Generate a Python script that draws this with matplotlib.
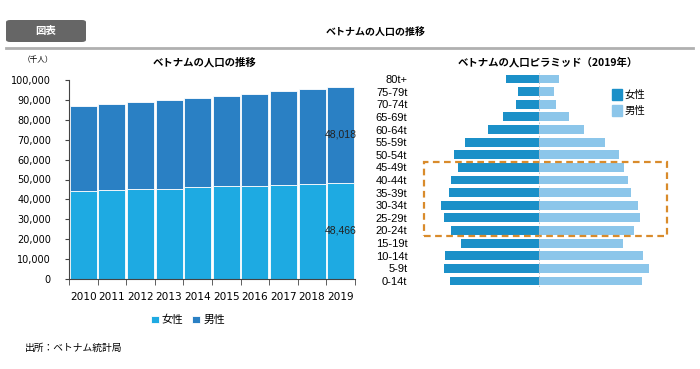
import matplotlib
matplotlib.use('Agg')
import matplotlib.pyplot as plt
from matplotlib.patches import FancyBboxPatch, Rectangle, Patch
from matplotlib.lines import Line2D
import numpy as np

plt.rcParams['font.family'] = ['Noto Sans CJK JP', 'DejaVu Sans']

# left chart: population by sex (thousand people)
years = ['2010', '2011', '2012', '2013', '2014', '2015', '2016', '2017', '2018', '2019']
female = [44200, 44600, 45100, 45400, 46100, 46600, 46900, 47400, 47900, 48466]
male = [42700, 43500, 44000, 44700, 45000, 45500, 46200, 46900, 47500, 48018]

# right chart: 2019 pyramid (bottom to top)
age_groups = ['0-14t', '5-9t', '10-14t', '15-19t', '20-24t', '25-29t', '30-34t', '35-39t',
              '40-44t', '45-49t', '50-54t', '55-59t', '60-64t', '65-69t', '70-74t',
              '75-79t', '80t+']
pyr_female = [3480, 3720, 3650, 3060, 3420, 3720, 3840, 3520, 3430, 3170, 3330, 2870,
              1990, 1400, 910, 830, 1300]
pyr_male = [4030, 4300, 4040, 3290, 3690, 3950, 3860, 3590, 3470, 3320, 3110, 2590,
            1760, 1160, 660, 570, 770]
highlight = ('20-24t', '45-49t')

W, H = 700, 369
fig = plt.figure(figsize=(W / 100, H / 100), dpi=100)


def fx(px):
    return px / W


def fy(py):
    return 1 - py / H


# header
fig.patches.append(FancyBboxPatch((fx(6), fy(42)), fx(80), 22 / H,
                                  boxstyle='round,pad=0,rounding_size=0.006',
                                  transform=fig.transFigure, facecolor='#666666',
                                  edgecolor='none'))
fig.text(fx(46), fy(31), '図表', color='white', fontsize=7.5, fontweight='bold',
         ha='center', va='center')
fig.text(fx(376), fy(32), 'ベトナムの人口の推移', fontsize=7.2, fontweight='bold',
         ha='center', va='center')
fig.lines.append(Line2D([fx(6), fx(693)], [fy(48), fy(48)], transform=fig.transFigure,
                        color='#b0b0b0', linewidth=2))

# ---- left: stacked bars ----
c_f, c_m = '#1eaae2', '#2a80c4'
num_font = ['DejaVu Sans']
ax = fig.add_axes([fx(69), fy(279), fx(355) - fx(69), (279 - 80) / H])
x = np.arange(len(years))
ax.bar(x, female, width=0.94, color=c_f, edgecolor='white', linewidth=0.6, label='女性')
ax.bar(x, male, bottom=female, width=0.94, color=c_m, edgecolor='white', linewidth=0.6,
       label='男性')
ax.text(x[-1], female[-1] / 2, f'{female[-1]:,}', ha='center', va='center', fontsize=7.5,
        family=['Liberation Sans'], color='#222222')
ax.text(x[-1], female[-1] + male[-1] / 2, f'{male[-1]:,}', ha='center', va='center',
        fontsize=7.5, family=['Liberation Sans'], color='#222222')
ax.set_xlim(-0.5, len(years) - 0.5)
ax.set_ylim(0, 100000)
ax.set_yticks(np.arange(0, 100001, 10000))
ax.set_yticklabels([f'{v:,}' for v in range(0, 100001, 10000)], fontsize=7,
                   family=num_font)
ax.set_xticks(x)
ax.set_xticklabels(years, fontsize=7.6, family=num_font)
ax.set_xticks(np.arange(-0.5, len(years)), minor=True)
ax.tick_params(axis='x', which='major', length=0, pad=9)
ax.tick_params(axis='x', which='minor', length=4, color='#444444')
ax.tick_params(axis='y', length=3, color='#444444', pad=10)
for s in ['top', 'right']:
    ax.spines[s].set_visible(False)
for s in ['left', 'bottom']:
    ax.spines[s].set_color('#444444')
    ax.spines[s].set_linewidth(0.8)
ax.legend(loc='center', bbox_to_anchor=(fx(188), fy(320)), bbox_transform=fig.transFigure,
          ncol=2, frameon=False, fontsize=7.8, handlelength=0.7, handleheight=0.7,
          handletextpad=0.3, columnspacing=0.8)
fig.text(fx(38), fy(60), '（千人）', fontsize=5.5, ha='center', va='center')
fig.text(fx(205), fy(62), 'ベトナムの人口の推移', fontsize=7.5, fontweight='bold',
         ha='center', va='center')

# ---- right: pyramid ----
p_f, p_m = '#1b90c8', '#8cc6ea'
ax2 = fig.add_axes([fx(415), fy(287.3), fx(680) - fx(415), (287.3 - 72.7) / H])
y = np.arange(len(age_groups))
ax2.barh(y, [-v for v in pyr_female], height=0.7, color=p_f, label='女性')
ax2.barh(y, pyr_male, height=0.7, color=p_m, label='男性')
ax2.axvline(0, color='#bbbbbb', linewidth=0.6, linestyle=(0, (2, 2)))
ax2.set_ylim(-0.5, len(age_groups) - 0.5)
ax2.set_xlim(-4836, 5499)
ax2.set_yticks(y)
ax2.set_yticklabels(age_groups, fontsize=8, family=['Liberation Sans'])
ax2.tick_params(axis='y', length=0, pad=5.5)
ax2.set_xticks([])
for s in ax2.spines.values():
    s.set_visible(False)
i0, i1 = age_groups.index(highlight[0]), age_groups.index(highlight[1])
x0 = -(max(pyr_female) + 650)
x1 = max(pyr_male) + 690
ax2.add_patch(Rectangle((x0, i0 - 0.45), x1 - x0, i1 - i0 + 0.9, fill=False,
                        edgecolor='#d98b2b', linewidth=1.6, linestyle=(0, (3, 2)),
                        clip_on=False))
ax2.legend(handles=[Patch(color=p_f, label='女性'), Patch(color=p_m, label='男性')],
           loc='upper left', bbox_to_anchor=(fx(603), fy(80)), bbox_transform=fig.transFigure,
           frameon=False, fontsize=7.5, handlelength=0.9, handleheight=1.2,
           handletextpad=0.3, labelspacing=0.5)
fig.text(fx(548), fy(62), 'ベトナムの人口ピラミッド（2019年）', fontsize=7.5,
         fontweight='bold', ha='center', va='center')

fig.text(fx(25), fy(348), '出所：ベトナム統計局', fontsize=7, ha='left', va='center')

fig.savefig('out.png', dpi=100)
